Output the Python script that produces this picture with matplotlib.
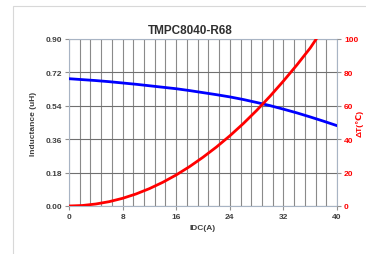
import numpy as np
import matplotlib
matplotlib.use("Agg")
import matplotlib.pyplot as plt
from matplotlib.patches import Rectangle

plt.rcParams['font.family'] = ['Liberation Sans', 'DejaVu Sans']

# data
idc = [0, 2, 4, 6, 8, 10, 12, 14, 16, 18, 20, 22, 24, 26, 28, 30, 32, 34, 36, 38, 40]
inductance = [0.686, 0.681, 0.676, 0.670, 0.663, 0.656, 0.648, 0.640, 0.632, 0.622,
              0.611, 0.600, 0.588, 0.574, 0.558, 0.541, 0.522, 0.502, 0.480, 0.457, 0.433]
idc_t = [0, 2, 4, 6, 8, 10, 12, 14, 16, 18, 20, 22, 24, 26, 28, 30, 32, 34, 36, 36.9]
delta_t = [0, 0.3, 1.2, 2.6, 4.6, 7.2, 10.4, 14.2, 18.6, 23.6, 29.2, 35.3, 42,
           49.3, 57.2, 65.7, 74.8, 84.4, 94.6, 100]

x_ticks = [0, 8, 16, 24, 32, 40]
y_ticks = [0.00, 0.18, 0.36, 0.54, 0.72, 0.90]
t_ticks = [0, 20, 40, 60, 80, 100]

fig = plt.figure(figsize=(3.66, 2.55), dpi=100)
fig.patches.append(Rectangle((13 / 366, -0.1), 1.2, 1 - 7 / 255 + 0.1,
                             transform=fig.transFigure, fill=False,
                             edgecolor='#d8d8d8', lw=0.8))

ax = fig.add_axes([69 / 366, 1 - 207 / 255, 268 / 366, 167 / 255])
ax.set_xlim(0, 40)
ax.set_ylim(0, 0.9)
ax.set_xticks(x_ticks)
ax.set_xticks(np.arange(0, 40.1, 1.6), minor=True)
ax.set_yticks(y_ticks)
ax.set_yticklabels(['%.2f' % v for v in y_ticks])
ax.grid(which='both', axis='x', color='#8a8a8a', lw=0.8)
ax.grid(which='major', axis='y', color='#707070', lw=0.8)
ax.tick_params(which='minor', length=0)
ax.tick_params(which='major', length=3, color='#909090', labelsize=6, pad=2,
               labelcolor='#404040')
for lab in ax.get_xticklabels() + ax.get_yticklabels():
    lab.set_fontweight('bold')
for s in ax.spines.values():
    s.set_color('#a8b4c4')
    s.set_linewidth(0.8)

ax.plot(idc, inductance, color='#0000ff', lw=2, zorder=3)
ax.set_xlabel('IDC(A)', fontsize=6, fontweight='bold', color='#404040', labelpad=3)
ax.set_ylabel('Inductance (uH)', fontsize=6, fontweight='bold', color='#404040', labelpad=6)

ax2 = ax.twinx()
ax2.set_ylim(0, 100)
ax2.set_yticks(t_ticks)
ax2.tick_params(length=3, color='#909090', labelsize=6, pad=2, labelcolor='#ff0000')
for lab in ax2.get_yticklabels():
    lab.set_fontweight('bold')
for s in ax2.spines.values():
    s.set_visible(False)
ax2.plot(idc_t, delta_t, color='#ff0000', lw=2, zorder=3)

fig.text(190.5 / 366, 1 - 31.5 / 255, 'TMPC8040-R68', fontsize=8.5, fontweight='bold',
         color='#303030', ha='center', va='center')
fig.text(360 / 366, 1 - 123 / 255, 'ΔT(℃)', fontsize=6, fontweight='bold',
         color='#ff0000', ha='center', va='center', rotation=90)

fig.savefig('out.png', dpi=100)
